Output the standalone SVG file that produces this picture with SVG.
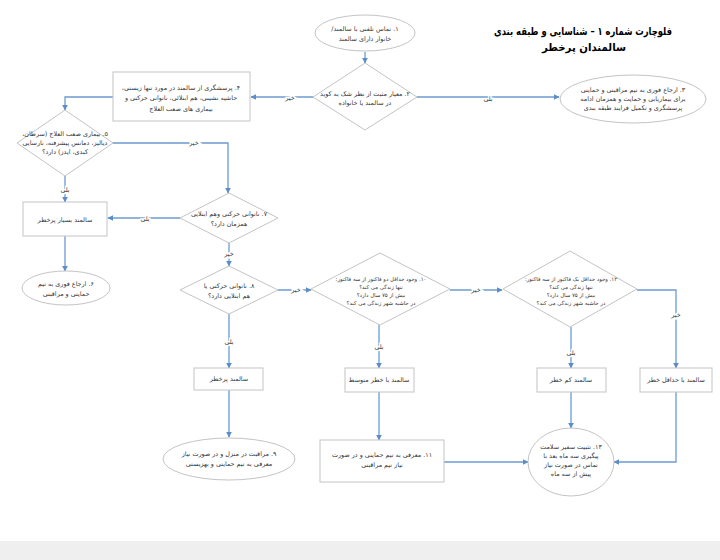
<svg xmlns="http://www.w3.org/2000/svg" width="720" height="560" viewBox="0 0 720 560">
<defs>
<marker id="ah" viewBox="0 0 10 10" refX="9" refY="5" markerWidth="6" markerHeight="6" orient="auto" markerUnits="userSpaceOnUse">
<path d="M0,0 L10,5 L0,10 z" fill="#5b8ec9"/>
</marker>
<style>
.shape{fill:#ffffff;stroke:#c4c4c4;stroke-width:1}
.t{font-family:"DejaVu Sans",sans-serif;font-size:6.4px;fill:#333;text-anchor:middle;direction:rtl;unicode-bidi:embed}
.ts{font-family:"DejaVu Sans",sans-serif;font-size:5.4px;fill:#333;text-anchor:middle;direction:rtl;unicode-bidi:embed}
.c{fill:none;stroke:#6b9bd0;stroke-width:1.3;marker-end:url(#ah)}
.lbl{font-family:"DejaVu Sans",sans-serif;font-size:6.4px;fill:#333;text-anchor:middle;direction:rtl;unicode-bidi:embed;stroke:#fff;stroke-width:3;paint-order:stroke}
.title{font-family:"DejaVu Sans",sans-serif;font-size:11px;font-weight:bold;fill:#000;text-anchor:middle;direction:rtl;unicode-bidi:embed}
</style>
</defs>
<rect x="0" y="0" width="720" height="560" fill="#ffffff"/>
<rect x="0" y="541" width="720" height="19" fill="#efefef"/>

<g id="title">
<text class="title" x="583" y="35" textLength="178" lengthAdjust="spacingAndGlyphs">فلوچارت شماره ۱ – شناسایی و طبقه بندی</text>
<text class="title" x="584" y="51" textLength="84" lengthAdjust="spacingAndGlyphs">سالمندان پرخطر</text>
</g>

<g id="connectors">
<line class="c" x1="365" y1="52" x2="365" y2="63"/>
<line class="c" x1="313" y1="97" x2="251" y2="97"/>
<line class="c" x1="417" y1="97" x2="559" y2="97"/>
<polyline class="c" points="113,97 65,97 65,110"/>
<polyline class="c" points="113,143 228,143 228,193"/>
<line class="c" x1="65" y1="176" x2="65" y2="202"/>
<line class="c" x1="180" y1="218" x2="108" y2="218"/>
<line class="c" x1="65" y1="236" x2="65" y2="271"/>
<line class="c" x1="229" y1="243" x2="229" y2="266"/>
<line class="c" x1="278" y1="290" x2="311" y2="290"/>
<line class="c" x1="450" y1="290" x2="502" y2="290"/>
<polyline class="c" points="637,290 676,290 676,368"/>
<line class="c" x1="229" y1="314" x2="229" y2="368"/>
<line class="c" x1="379" y1="325" x2="379" y2="368"/>
<line class="c" x1="571" y1="327" x2="571" y2="368"/>
<line class="c" x1="229" y1="390" x2="229" y2="437"/>
<line class="c" x1="379" y1="392" x2="379" y2="440"/>
<line class="c" x1="571" y1="392" x2="571" y2="428"/>
<line class="c" x1="444" y1="462" x2="528" y2="462"/>
<polyline class="c" points="676,392 676,462 614,462"/>
<text class="lbl" x="290" y="100">خیر</text>
<text class="lbl" x="488" y="101">بلی</text>
<text class="lbl" x="194" y="145">خیر</text>
<text class="lbl" x="65" y="192">بلی</text>
<text class="lbl" x="145" y="221">بلی</text>
<text class="lbl" x="229" y="256">خیر</text>
<text class="lbl" x="296" y="292">خیر</text>
<text class="lbl" x="476" y="292">خیر</text>
<text class="lbl" x="676" y="317">خیر</text>
<text class="lbl" x="229" y="344">بلی</text>
<text class="lbl" x="379" y="349">بلی</text>
<text class="lbl" x="571" y="355">بلی</text>
</g>

<g id="n1">
<ellipse class="shape" cx="365" cy="33" rx="50" ry="18"/>
<text class="t" x="365" y="31">۱. تماس تلفنی با سالمند/</text>
<text class="t" x="365" y="41">خانوار دارای سالمند</text>
</g>

<g id="n2">
<polygon class="shape" points="365,63 417,97 365,130 313,97"/>
<text class="t" x="365" y="96">۲. معیار مثبت از نظر شک به کوید</text>
<text class="t" x="365" y="105">در  سالمند یا خانواده</text>
</g>

<g id="n3">
<ellipse class="shape" cx="633" cy="99" rx="73" ry="24"/>
<text class="t" x="633" y="92">۳. ارجاع فوری به تیم مراقبتی و حمایتی</text>
<text class="t" x="633" y="101">برای بیماریابی و حمایت و همزمان ادامه</text>
<text class="t" x="633" y="110">پرسشگری و تکمیل فرایند طبقه بندی</text>
</g>

<g id="n4">
<rect class="shape" x="113" y="72" width="137" height="49"/>
<text class="t" x="181" y="90">۴. پرسشگری از سالمند در مورد تنها زیستی،</text>
<text class="t" x="181" y="100">حاشیه نشینی، هم ابتلائی، ناتوانی حرکتی و</text>
<text class="t" x="181" y="111">بیماری های صعب العلاج</text>
</g>

<g id="n5">
<polygon class="shape" points="65,110 113,143 65,176 17,143"/>
<text class="t" x="65" y="136">۵. بیماری صعب العلاج (سرطان،</text>
<text class="t" x="65" y="145">دیالیز، دمانس پیشرفته، نارسایی</text>
<text class="t" x="65" y="154">کبدی، ایدز) دارد؟</text>
</g>

<g id="nVH">
<rect class="shape" x="23" y="202" width="84" height="34"/>
<text class="t" x="65" y="222">سالمند بسیار پرخطر</text>
</g>

<g id="n6">
<ellipse class="shape" cx="66" cy="288" rx="44" ry="17"/>
<text class="t" x="66" y="286">۶. ارجاع فوری به تیم</text>
<text class="t" x="66" y="296">حمایتی و مراقبتی</text>
</g>

<g id="n7">
<polygon class="shape" points="229,193 278,218 229,243 180,218"/>
<text class="t" x="229" y="216">۷. ناتوانی حرکتی وهم ابتلایی</text>
<text class="t" x="229" y="226">همزمان دارد؟</text>
</g>

<g id="n8">
<polygon class="shape" points="229,266 278,290 229,314 180,290"/>
<text class="t" x="229" y="288">۸. ناتوانی حرکتی یا</text>
<text class="t" x="229" y="298">هم ابتلایی دارد؟</text>
</g>

<g id="n10">
<polygon class="shape" points="380,253 450,289 380,325 311,289"/>
<text class="ts" x="381" y="281">۱۰. وجود حداقل دو فاکتور از سه فاکتور:</text>
<text class="ts" x="381" y="289">تنها زندگی می کند؟</text>
<text class="ts" x="381" y="297">بیش از ۷۵ سال دارد؟</text>
<text class="ts" x="381" y="305">در حاشیه شهر زندگی می کند؟</text>
</g>

<g id="n12">
<polygon class="shape" points="570,251 637,289 570,327 503,289"/>
<text class="ts" x="571" y="281">۱۲. وجود حداقل یک فاکتور از سه فاکتور:</text>
<text class="ts" x="571" y="289">تنها زندگی می کند؟</text>
<text class="ts" x="571" y="297">بیش از ۷۵ سال دارد؟</text>
<text class="ts" x="571" y="305">در حاشیه شهر زندگی می کند؟</text>
</g>

<g id="nHigh">
<rect class="shape" x="194" y="368" width="69" height="22"/>
<text class="t" x="229" y="381">سالمند پرخطر</text>
</g>

<g id="nMid">
<rect class="shape" x="345" y="368" width="69" height="24"/>
<text class="t" x="379" y="382">سالمند با خطر متوسط</text>
</g>

<g id="nLow">
<rect class="shape" x="537" y="368" width="69" height="24"/>
<text class="t" x="571" y="382">سالمند کم خطر</text>
</g>

<g id="nMin">
<rect class="shape" x="640" y="368" width="72" height="24"/>
<text class="t" x="676" y="382">سالمند با حداقل خطر</text>
</g>

<g id="n9">
<ellipse class="shape" cx="229" cy="459" rx="66" ry="21"/>
<text class="t" x="229" y="456">۹. مراقبت در منزل و در صورت نیاز</text>
<text class="t" x="229" y="466">معرفی به تیم حمایتی و بهزیستی</text>
</g>

<g id="n11">
<rect class="shape" x="320" y="440" width="124" height="42"/>
<text class="t" x="382" y="457">۱۱. معرفی به تیم حمایتی و در صورت</text>
<text class="t" x="382" y="467">نیاز تیم مراقبتی</text>
</g>

<g id="n13">
<ellipse class="shape" cx="571" cy="462" rx="43" ry="34"/>
<text class="t" x="571" y="449">۱۳. تثبیت سفیر سلامت</text>
<text class="t" x="571" y="458">پیگیری سه ماه بعد با</text>
<text class="t" x="571" y="467">تماس در صورت نیاز</text>
<text class="t" x="571" y="476">پیش از سه ماه</text>
</g>
</svg>
